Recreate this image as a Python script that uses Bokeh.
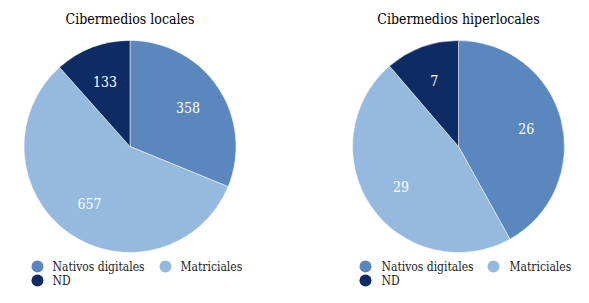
import math
from bokeh.plotting import figure
from bokeh.models import Range1d, ColumnDataSource
from bokeh.core.properties import value
from bokeh.embed import file_html
from bokeh.resources import INLINE

categories = ["Nativos digitales", "Matriciales", "ND"]
colors = ["#5b87bf", "#96b9df", "#0e2b63"]
titles = ["Cibermedios locales", "Cibermedios hiperlocales"]
locales = [358, 657, 133]
hiperlocales = [26, 29, 7]

W, H = 573, 287
FONT = "DejaVu Serif Condensed"

p = figure(width=W, height=H, output_backend="svg", toolbar_location=None,
           x_range=Range1d(0, W), y_range=Range1d(0, H),
           min_border=0, outline_line_color=None)
p.axis.visible = False
p.grid.visible = False
p.background_fill_color = "white"

def sy(y):
    return H - y

centers = [(129.5, 146), (458, 146)]
R = 106
TITLE_Y = 18
ROW1, ROW2 = 266, 280
legend_x = [(37, 52, 165, 180), (365, 381, 493, 509)]

for (cx, cy), vals, title, lx in zip(centers, [locales, hiperlocales], titles, legend_x):
    total = sum(vals)
    cum = 0
    starts, ends, lxs, lys, txt = [], [], [], [], []
    for v in vals:
        a0 = cum / total * 2 * math.pi
        cum += v
        a1 = cum / total * 2 * math.pi
        starts.append(math.pi / 2 - a1)
        ends.append(math.pi / 2 - a0)
        mid = (a0 + a1) / 2
        lxs.append(cx + 0.66 * R * math.sin(mid))
        lys.append(sy(cy) + 0.66 * R * math.cos(mid))
        txt.append(str(v))
    src = ColumnDataSource(dict(x=[cx] * 3, y=[sy(cy)] * 3, s=starts, e=ends,
                                c=colors, lx=lxs, ly=lys, t=txt))
    p.wedge(x="x", y="y", radius=R, start_angle="s", end_angle="e",
            fill_color="c", line_color="white", line_width=0.5, source=src)
    p.text(x="lx", y="ly", text="t", text_color="white", text_font=value(FONT),
           text_font_size="14px", text_align="center", text_baseline="middle",
           source=src)
    p.text(x=[cx], y=[sy(TITLE_Y)], text=[title], text_color="black",
           text_font=value(FONT), text_font_size="14px", text_align="center",
           text_baseline="middle")
    mx = [lx[0], lx[2], lx[0]]
    my = [sy(ROW1), sy(ROW1), sy(ROW2)]
    tx = [lx[1], lx[3], lx[1]]
    p.scatter(x=mx, y=my, size=12, fill_color=colors, line_color=None)
    p.text(x=tx, y=my, text=categories, text_color="#222222",
           text_font=value(FONT), text_font_size="12px", text_align="left",
           text_baseline="middle")

open("out.html", "w").write(file_html(p, INLINE))
